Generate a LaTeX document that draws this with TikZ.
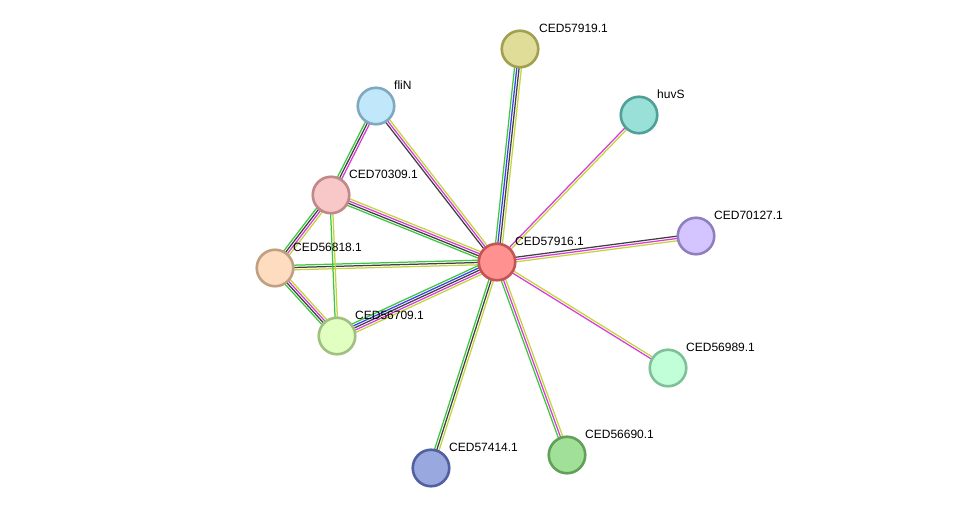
\documentclass[tikz,border=0pt]{standalone}
\usepackage{fontspec}
\setmainfont{Liberation Sans}
\usetikzlibrary{calc,backgrounds}
\definecolor{egreen}{HTML}{3CC83C}
\definecolor{eblue}{HTML}{3C3CF0}
\definecolor{edark}{HTML}{404040}
\definecolor{emag}{HTML}{D83CD8}
\definecolor{eyel}{HTML}{C4D43C}
\tikzset{
  prot/.style={circle,minimum size=36.5pt,inner sep=0pt,line width=2.6pt},
  plabel/.style={anchor=west,inner sep=0pt,font=\fontsize{12}{14}\selectfont,text=black},
  eline/.style={line width=1.25pt}
}
\newcommand\sedge[3]{%
  \foreach \c [count=\i] in {#3} {\xdef\nn{\i}}%
  \foreach \c [count=\i] in {#3} {%
    \pgfmathsetmacro\off{((\nn+1)/2-\i)*2.3}%
    \draw[eline,draw=\c] ($(#1.center)!\off pt!90:(#2.center)$) -- ($(#2.center)!\off pt!-90:(#1.center)$);
  }}
\begin{document}
\begin{tikzpicture}[x=1pt,y=-1pt]
\useasboundingbox (0,0) rectangle (975,514);
\node[prot,fill={rgb,255:red,255;green,145;blue,144},draw={rgb,255:red,196;green,84;blue,84}] (c) at (497,262) {};
\node[prot,fill={rgb,255:red,224;green,221;blue,152},draw={rgb,255:red,160;green,160;blue,80}] (n57919) at (520,49) {};
\node[prot,fill={rgb,255:red,152;green,224;blue,216},draw={rgb,255:red,80;green,160;blue,152}] (huvS) at (639,115) {};
\node[prot,fill={rgb,255:red,192;green,232;blue,250},draw={rgb,255:red,128;green,168;blue,192}] (fliN) at (376,106) {};
\node[prot,fill={rgb,255:red,248;green,200;blue,200},draw={rgb,255:red,192;green,136;blue,136}] (n70309) at (331,195) {};
\node[prot,fill={rgb,255:red,253;green,220;blue,192},draw={rgb,255:red,192;green,160;blue,128}] (n56818) at (275,268) {};
\node[prot,fill={rgb,255:red,224;green,255;blue,192},draw={rgb,255:red,160;green,192;blue,128}] (n56709) at (337,336) {};
\node[prot,fill={rgb,255:red,212;green,196;blue,255},draw={rgb,255:red,144;green,128;blue,192}] (n70127) at (696,236) {};
\node[prot,fill={rgb,255:red,192;green,255;blue,216},draw={rgb,255:red,128;green,192;blue,152}] (n56989) at (668,368) {};
\node[prot,fill={rgb,255:red,160;green,224;blue,152},draw={rgb,255:red,96;green,160;blue,88}] (n56690) at (567,455) {};
\node[prot,fill={rgb,255:red,154;green,168;blue,224},draw={rgb,255:red,80;green,96;blue,160}] (n57414) at (431,468) {};
\begin{scope}[on background layer]
\fill[white] (0,0) rectangle (975,514);
\sedge{c}{n57919}{egreen,eblue,edark,eyel}
\sedge{c}{huvS}{emag,eyel}
\sedge{c}{fliN}{edark,emag,eyel}
\sedge{c}{n70309}{egreen,edark,emag,eyel}
\sedge{c}{n56818}{eyel,edark,egreen}
\sedge{c}{n56709}{eyel,emag,edark,eblue,egreen}
\sedge{c}{n70127}{edark,emag,eyel}
\sedge{c}{n56989}{eyel,emag}
\sedge{c}{n56690}{eyel,emag,egreen}
\sedge{c}{n57414}{eyel,edark,egreen}
\sedge{fliN}{n70309}{emag,edark,egreen}
\sedge{n70309}{n56818}{eyel,emag,edark,egreen}
\sedge{n70309}{n56709}{eyel,egreen}
\sedge{n56818}{n56709}{eyel,emag,edark,egreen}
\end{scope}
\node[plabel] (lc) at ($(c)+(18,-21)$) {CED57916.1};
\node[plabel] (l57919) at ($(n57919)+(19,-21)$) {CED57919.1};
\node[plabel] (lhuvS) at ($(huvS)+(18,-21)$) {huvS};
\node[plabel] (lfliN) at ($(fliN)+(18,-21)$) {fliN};
\node[plabel] (l70309) at ($(n70309)+(18,-21)$) {CED70309.1};
\node[plabel] (l56818) at ($(n56818)+(18,-21)$) {CED56818.1};
\node[plabel] (l56709) at ($(n56709)+(18,-21)$) {CED56709.1};
\node[plabel] (l70127) at ($(n70127)+(18,-21)$) {CED70127.1};
\node[plabel] (l56989) at ($(n56989)+(18,-21)$) {CED56989.1};
\node[plabel] (l56690) at ($(n56690)+(18,-21)$) {CED56690.1};
\node[plabel] (l57414) at ($(n57414)+(18,-21)$) {CED57414.1};
\end{tikzpicture}
\end{document}
